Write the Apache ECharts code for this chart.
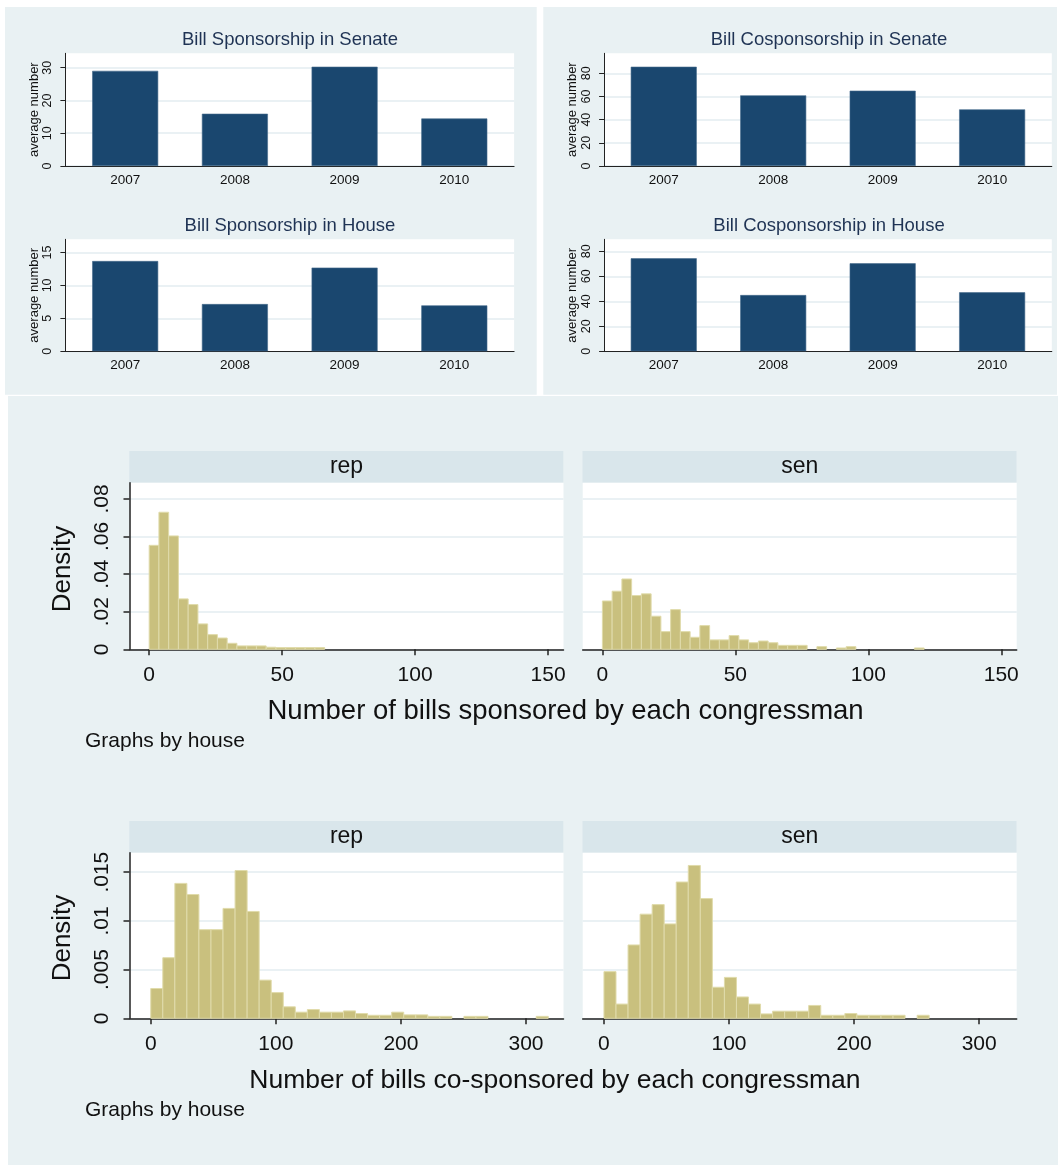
<!DOCTYPE html>
<html>
<head>
<meta charset="utf-8">
<script src="https://cdn.jsdelivr.net/npm/echarts@6/dist/echarts.min.js"></script>
<style>
  html, body { margin: 0; padding: 0; background: #ffffff; }
  #chart { width: 1063px; height: 1165px; }
</style>
</head>
<body>
<div id="chart"></div>
<script>
// ---- data -------------------------------------------------------------
const years = ['2007', '2008', '2009', '2010'];

// average number of bills per member
const senateSponsor   = [29.05, 15.95, 30.3, 14.5];
const houseSponsor    = [13.7, 7.17, 12.7, 6.97];
const senateCosponsor = [85.7, 61.0, 65.0, 48.9];
const houseCosponsor  = [74.4, 45.0, 70.4, 47.2];

// y tick labels of the four bar panels
const senateSponsorTicks   = [0, 10, 20, 30];
const houseSponsorTicks    = [0, 5, 10, 15];
const senateCosponsorTicks = [0, 20, 40, 60, 80];
const houseCosponsorTicks  = [0, 20, 40, 60, 80];

// histogram densities (33 equal-width bins starting at 0)
const sponsorBinWidth = 121 / 33;
const repSponsorDensity = [0.0553, 0.0729, 0.0603, 0.0268, 0.0238, 0.0135, 0.0078, 0.0060, 0.0032,
  0.0018, 0.0018, 0.0018, 0.0011, 0.0009, 0.0009, 0.0009, 0.0009, 0.0009];
const senSponsorDensity = [0.0257, 0.0309, 0.0374, 0.0286, 0.0295, 0.0176, 0.0094, 0.0211, 0.0094,
  0.0064, 0.0126, 0.0050, 0.0050, 0.0073, 0.0050, 0.0035, 0.0044, 0.0035, 0.0021, 0.0021, 0.0021,
  0, 0.0014, 0, 0.0007, 0.0014, 0, 0, 0, 0, 0, 0, 0.0007];

const cosponsorBinWidth = 317.8 / 33;
const repCosponsorDensity = [0.00306, 0.00622, 0.01385, 0.01271, 0.0091, 0.0091, 0.01128, 0.01517,
  0.01097, 0.00392, 0.00264, 0.00118, 0.00063, 0.0009, 0.00063, 0.00063, 0.00076, 0.00049, 0.00031,
  0.00031, 0.00063, 0.00035, 0.00035, 0.0002, 0.0002, 0, 0.0002, 0.0002, 0, 0, 0, 0, 0.0002];
const senCosponsorDensity = [0.00479, 0.00146, 0.00753, 0.01069, 0.01167, 0.00969, 0.01399, 0.01569,
  0.01229, 0.00319, 0.0042, 0.00219, 0.00146, 0.00045, 0.00073, 0.00073, 0.00073, 0.00132, 0.00031,
  0.00031, 0.00049, 0.00031, 0.00031, 0.00031, 0.00031, 0, 0.00031];

const sponsorXTicks   = [0, 50, 100, 150];
const cosponsorXTicks = [0, 100, 200, 300];
const sponsorYTicks   = [0, 0.02, 0.04, 0.06, 0.08];
const cosponsorYTicks = [0, 0.005, 0.01, 0.015];

// ---- styling ----------------------------------------------------------
const FONT = '"Liberation Sans", Arial, "DejaVu Sans", sans-serif';
const PANEL_BG = '#e9f1f3';
const STRIP_BG = '#d9e6eb';
const GRID_LINE = '#e3ecf0';
const NAVY = '#1a476f';
const KHAKI = '#c9c07e';
const KHAKI_EDGE = '#e0dbab';
const AXIS = '#222222';

const grids = [], xAxes = [], yAxes = [], series = [], graphics = [];

// ---- bar panels -------------------------------------------------------
const barPanels = [
  { title: 'Bill Sponsorship in Senate',   values: senateSponsor,   ticks: senateSponsorTicks,   max: 34.4, step: 10,
    box: { left: 65.4,  top: 53.3,  width: 448.7, height: 112.7 }, tx: 290, ty: 40 },
  { title: 'Bill Sponsorship in House',    values: houseSponsor,    ticks: houseSponsorTicks,    max: 17,   step: 5,
    box: { left: 65.4,  top: 239.3, width: 448.7, height: 112 },   tx: 290, ty: 226 },
  { title: 'Bill Cosponsorship in Senate', values: senateCosponsor, ticks: senateCosponsorTicks, max: 97.3, step: 20,
    box: { left: 604.1, top: 53.3,  width: 447.7, height: 112.7 }, tx: 829, ty: 40 },
  { title: 'Bill Cosponsorship in House',  values: houseCosponsor,  ticks: houseCosponsorTicks,  max: 89.6, step: 20,
    box: { left: 604.1, top: 239.3, width: 447.7, height: 112 },   tx: 829, ty: 226 }
];

barPanels.forEach((p) => {
  const gi = grids.length;
  grids.push(Object.assign({ show: true, backgroundColor: '#ffffff', borderWidth: 0 }, p.box));
  xAxes.push({
    gridIndex: gi, type: 'value', min: -0.545, max: 3.545,
    axisLine: { show: true, onZero: false, lineStyle: { color: AXIS, width: 1 } },
    axisTick: { show: false },
    splitLine: { show: false },
    axisLabel: {
      customValues: years.map((y, k) => k),
      formatter: (v) => years[Math.round(v)] || '',
      margin: 7, fontSize: 13.5, color: '#111', fontFamily: FONT
    }
  });
  yAxes.push({
    gridIndex: gi, type: 'value', min: 0, max: p.max, interval: p.step,
    name: 'average number', nameLocation: 'middle', nameGap: 20,
    nameTextStyle: { fontSize: 13, color: '#111', fontFamily: FONT },
    axisLine: { show: true, onZero: false, lineStyle: { color: AXIS, width: 1 } },
    axisTick: { show: true, length: 5, customValues: p.ticks, lineStyle: { color: AXIS } },
    axisLabel: { customValues: p.ticks, rotate: 90, margin: 11, fontSize: 12.5, color: '#111', fontFamily: FONT },
    splitLine: { show: true, lineStyle: { color: GRID_LINE, width: 1.5 } }
  });
  series.push({
    type: 'bar', xAxisIndex: gi, yAxisIndex: gi,
    data: p.values.map((v, k) => [k, v]),
    barWidth: 66,
    itemStyle: { color: NAVY, borderColor: '#456a8c', borderWidth: 0.6 },
    silent: true
  });
  graphics.push({
    type: 'text', x: p.tx, y: p.ty, z: 20,
    style: { text: p.title, fill: '#1f3354', font: '18.5px ' + FONT, textAlign: 'center', textVerticalAlign: 'middle' }
  });
});

// ---- histogram panels -------------------------------------------------
function binsOf(density, width) {
  return density.map((d, i) => [i * width, (i + 1) * width, d]).filter((b) => b[2] > 0);
}

function renderBin(params, api) {
  const top = api.coord([api.value(0), api.value(2)]);
  const bottom = api.coord([api.value(1), 0]);
  return {
    type: 'rect',
    shape: { x: top[0], y: top[1], width: bottom[0] - top[0], height: bottom[1] - top[1] },
    style: { fill: KHAKI, stroke: KHAKI_EDGE, lineWidth: 1 }
  };
}

const densityLabel = (v) => (v === 0 ? '0' : String(+v.toFixed(4)).replace(/^0\./, '.'));

const histPanels = [
  { label: 'rep', density: repSponsorDensity, width: sponsorBinWidth, xr: [-7.4, 155.8], xt: sponsorXTicks,
    yMax: 0.0886, yStep: 0.02, yt: sponsorYTicks, showY: true,
    box: { left: 129.5, top: 482.7, width: 434, height: 166.6 } },
  { label: 'sen', density: senSponsorDensity, width: sponsorBinWidth, xr: [-7.4, 155.8], xt: sponsorXTicks,
    yMax: 0.0886, yStep: 0.02, yt: sponsorYTicks, showY: false,
    box: { left: 582.7, top: 482.7, width: 434, height: 166.6 } },
  { label: 'rep', density: repCosponsorDensity, width: cosponsorBinWidth, xr: [-17, 330], xt: cosponsorXTicks,
    yMax: 0.0170, yStep: 0.005, yt: cosponsorYTicks, showY: true,
    box: { left: 129.5, top: 852.7, width: 434, height: 165.6 } },
  { label: 'sen', density: senCosponsorDensity, width: cosponsorBinWidth, xr: [-17, 330], xt: cosponsorXTicks,
    yMax: 0.0170, yStep: 0.005, yt: cosponsorYTicks, showY: false,
    box: { left: 582.7, top: 852.7, width: 434, height: 165.6 } }
];

histPanels.forEach((p) => {
  const gi = grids.length;
  grids.push(Object.assign({ show: true, backgroundColor: '#ffffff', borderWidth: 0 }, p.box));
  xAxes.push({
    gridIndex: gi, type: 'value', min: p.xr[0], max: p.xr[1],
    axisLine: { show: true, onZero: false, lineStyle: { color: AXIS, width: 1.5 } },
    axisTick: { show: true, length: 6, customValues: p.xt, lineStyle: { color: AXIS, width: 1.5 } },
    axisLabel: { customValues: p.xt, margin: 15, fontSize: 21, color: '#111', fontFamily: FONT },
    splitLine: { show: false }
  });
  yAxes.push({
    gridIndex: gi, type: 'value', min: 0, max: p.yMax, interval: p.yStep,
    axisLine: { show: p.showY, onZero: false, lineStyle: { color: AXIS, width: 1.5 } },
    axisTick: { show: p.showY, length: 6, customValues: p.yt, lineStyle: { color: AXIS, width: 1.5 } },
    axisLabel: { show: p.showY, customValues: p.yt, formatter: densityLabel, rotate: 90, margin: 17,
      fontSize: 21, color: '#111', fontFamily: FONT },
    splitLine: { show: true, lineStyle: { color: GRID_LINE, width: 1.5 } }
  });
  series.push({
    type: 'custom', xAxisIndex: gi, yAxisIndex: gi,
    data: binsOf(p.density, p.width),
    encode: { x: [0, 1], y: 2 },
    renderItem: renderBin,
    silent: true
  });
  // facet strip
  const b = p.box;
  graphics.push({
    type: 'rect', z: -5,
    shape: { x: b.left - 0.2, y: b.top - 31.7, width: b.width, height: 31.7 },
    style: { fill: STRIP_BG }
  });
  graphics.push({
    type: 'text', z: 20, x: b.left + b.width / 2, y: b.top - 16,
    style: { text: p.label, fill: '#111', font: '23px ' + FONT, textAlign: 'center', textVerticalAlign: 'middle' }
  });
});

// ---- background regions and shared titles ----------------------------
graphics.unshift(
  { type: 'rect', z: -10, shape: { x: 5, y: 7, width: 531.7, height: 387.7 }, style: { fill: PANEL_BG } },
  { type: 'rect', z: -10, shape: { x: 543.3, y: 7, width: 513.7, height: 387.7 }, style: { fill: PANEL_BG } },
  { type: 'rect', z: -10, shape: { x: 8, y: 396, width: 1050, height: 769 }, style: { fill: PANEL_BG } }
);

const histTitles = [
  { text: 'Number of bills sponsored by each congressman', x: 267.5, y: 711.7, dy: 569, size: 27.5 },
  { text: 'Number of bills co-sponsored by each congressman', x: 249.3, y: 1080.7, dy: 938, size: 26.5 }
];
histTitles.forEach((t) => {
  graphics.push({ type: 'text', z: 20, x: t.x, y: t.y,
    style: { text: t.text, fill: '#111', font: t.size + 'px ' + FONT, textAlign: 'left', textVerticalAlign: 'middle' } });
  graphics.push({ type: 'text', z: 20, x: 85, y: t.y + 30,
    style: { text: 'Graphs by house', fill: '#111', font: '21px ' + FONT, textAlign: 'left', textVerticalAlign: 'middle' } });
  graphics.push({ type: 'text', z: 20, x: 62.5, y: t.dy, rotation: Math.PI / 2,
    style: { text: 'Density', fill: '#111', font: '26px ' + FONT, textAlign: 'center', textVerticalAlign: 'middle' } });
});

const chart = echarts.init(document.getElementById('chart'), null, { renderer: 'canvas' });
chart.setOption({
  backgroundColor: '#ffffff',
  animation: false,
  textStyle: { fontFamily: FONT },
  grid: grids,
  xAxis: xAxes,
  yAxis: yAxes,
  series: series,
  graphic: { elements: graphics }
});
</script>
</body>
</html>
